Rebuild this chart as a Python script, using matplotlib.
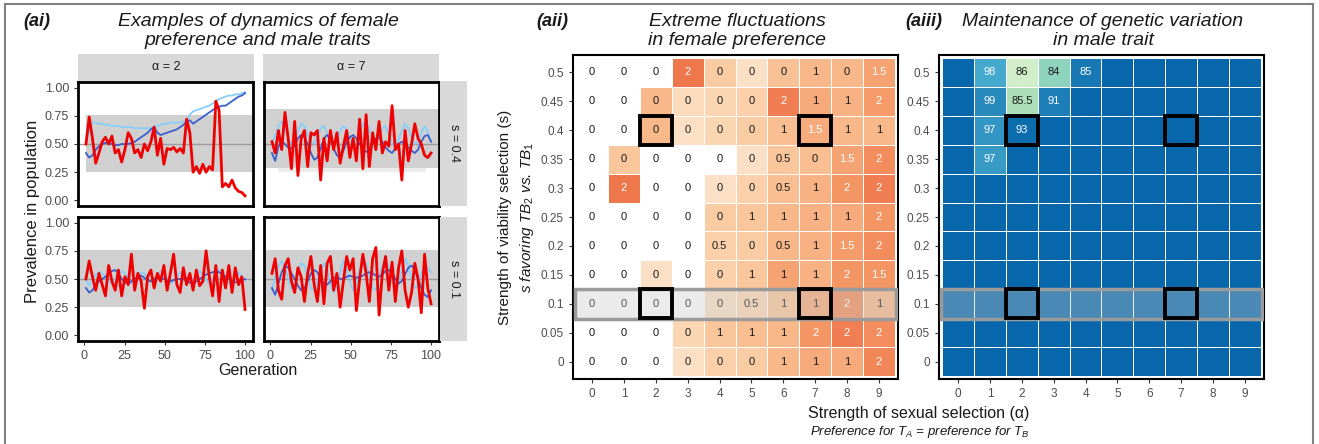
import numpy as np
import matplotlib.pyplot as plt
from matplotlib.colors import LinearSegmentedColormap
from matplotlib.patches import Rectangle
from matplotlib.lines import Line2D

plt.rcParams['font.family'] = ['Liberation Sans', 'DejaVu Sans']
plt.rcParams['mathtext.fontset'] = 'custom'
plt.rcParams['mathtext.it'] = 'Liberation Sans:italic'
plt.rcParams['mathtext.rm'] = 'Liberation Sans'

# ---- time series data (every ~2 generations) ----
gens = np.linspace(1, 100, 50)

red_a2_s04 = [0.50, 0.74, 0.55, 0.33, 0.42, 0.52, 0.56, 0.50, 0.57, 0.42,
              0.45, 0.34, 0.45, 0.60, 0.55, 0.42, 0.45, 0.38, 0.50, 0.44,
              0.52, 0.65, 0.40, 0.55, 0.32, 0.46, 0.45, 0.47, 0.43, 0.46,
              0.42, 0.72, 0.60, 0.25, 0.30, 0.24, 0.32, 0.25, 0.30, 0.27,
              0.88, 0.80, 0.12, 0.15, 0.12, 0.18, 0.11, 0.08, 0.07, 0.04]
light_a2_s04 = [0.50, 0.62, 0.69, 0.69, 0.68, 0.68, 0.67, 0.67, 0.66, 0.66,
                0.66, 0.65, 0.65, 0.65, 0.65, 0.64, 0.64, 0.64, 0.64, 0.64,
                0.64, 0.65, 0.66, 0.67, 0.68, 0.68, 0.69, 0.69, 0.69, 0.69,
                0.70, 0.71, 0.76, 0.79, 0.80, 0.81, 0.82, 0.83, 0.84, 0.86,
                0.88, 0.90, 0.91, 0.92, 0.93, 0.93, 0.94, 0.94, 0.95, 0.96]
blue_a2_s04 = [0.42, 0.38, 0.40, 0.45, 0.48, 0.50, 0.51, 0.51, 0.50, 0.49,
               0.49, 0.50, 0.50, 0.50, 0.51, 0.52, 0.54, 0.56, 0.58, 0.60,
               0.63, 0.65, 0.60, 0.58, 0.59, 0.60, 0.61, 0.62, 0.63, 0.65,
               0.67, 0.70, 0.71, 0.68, 0.70, 0.72, 0.74, 0.76, 0.78, 0.80,
               0.82, 0.83, 0.84, 0.84, 0.86, 0.88, 0.90, 0.92, 0.93, 0.95]

red_a7_s04 = [0.52, 0.42, 0.62, 0.45, 0.78, 0.55, 0.28, 0.70, 0.22, 0.55,
              0.62, 0.30, 0.60, 0.58, 0.62, 0.18, 0.55, 0.35, 0.62, 0.45,
              0.60, 0.33, 0.48, 0.62, 0.38, 0.55, 0.35, 0.72, 0.28, 0.76,
              0.30, 0.60, 0.45, 0.70, 0.42, 0.52, 0.48, 0.84, 0.45, 0.50,
              0.18, 0.62, 0.35, 0.50, 0.68, 0.55, 0.50, 0.40, 0.38, 0.42]
light_a7_s04 = [0.50, 0.58, 0.66, 0.70, 0.64, 0.55, 0.50, 0.55, 0.62, 0.68,
                0.66, 0.58, 0.52, 0.50, 0.56, 0.64, 0.66, 0.60, 0.52, 0.48,
                0.54, 0.62, 0.66, 0.62, 0.55, 0.50, 0.52, 0.60, 0.68, 0.70,
                0.62, 0.55, 0.52, 0.56, 0.64, 0.66, 0.58, 0.50, 0.48, 0.54,
                0.62, 0.68, 0.64, 0.56, 0.50, 0.52, 0.60, 0.66, 0.60, 0.52]
blue_a7_s04 = [0.42, 0.35, 0.48, 0.52, 0.50, 0.47, 0.46, 0.48, 0.55, 0.58,
               0.56, 0.50, 0.42, 0.36, 0.38, 0.46, 0.55, 0.58, 0.54, 0.46,
               0.40, 0.38, 0.44, 0.52, 0.56, 0.58, 0.55, 0.50, 0.46, 0.43,
               0.45, 0.50, 0.55, 0.56, 0.52, 0.47, 0.44, 0.42, 0.46, 0.50,
               0.52, 0.50, 0.47, 0.44, 0.42, 0.45, 0.52, 0.57, 0.58, 0.52]

red_a2_s01 = [0.50, 0.66, 0.52, 0.40, 0.55, 0.45, 0.35, 0.62, 0.48, 0.40,
              0.58, 0.35, 0.52, 0.45, 0.72, 0.40, 0.55, 0.48, 0.24, 0.52,
              0.58, 0.42, 0.55, 0.48, 0.62, 0.40, 0.55, 0.72, 0.45, 0.38,
              0.60, 0.45, 0.55, 0.40, 0.58, 0.44, 0.48, 0.75, 0.52, 0.35,
              0.62, 0.30, 0.58, 0.42, 0.62, 0.38, 0.60, 0.45, 0.52, 0.23]
light_a2_s01 = [0.50, 0.44, 0.48, 0.54, 0.56, 0.55, 0.52, 0.48, 0.46, 0.50,
                0.55, 0.57, 0.55, 0.50, 0.46, 0.47, 0.52, 0.56, 0.55, 0.50,
                0.47, 0.48, 0.53, 0.57, 0.55, 0.50, 0.46, 0.48, 0.52, 0.56,
                0.55, 0.50, 0.47, 0.49, 0.54, 0.57, 0.54, 0.49, 0.46, 0.49,
                0.54, 0.58, 0.56, 0.50, 0.46, 0.48, 0.53, 0.56, 0.52, 0.48]
blue_a2_s01 = [0.42, 0.38, 0.40, 0.45, 0.48, 0.50, 0.52, 0.55, 0.57, 0.58,
               0.55, 0.50, 0.47, 0.46, 0.48, 0.50, 0.52, 0.53, 0.51, 0.49,
               0.48, 0.50, 0.52, 0.51, 0.50, 0.49, 0.48, 0.49, 0.50, 0.50,
               0.50, 0.48, 0.47, 0.46, 0.48, 0.50, 0.52, 0.54, 0.55, 0.56,
               0.57, 0.56, 0.54, 0.52, 0.50, 0.48, 0.47, 0.48, 0.49, 0.50]

red_a7_s01 = [0.55, 0.68, 0.40, 0.32, 0.62, 0.68, 0.48, 0.38, 0.60, 0.52,
              0.30, 0.55, 0.70, 0.45, 0.30, 0.62, 0.28, 0.64, 0.70, 0.40,
              0.55, 0.25, 0.48, 0.70, 0.58, 0.68, 0.22, 0.50, 0.72, 0.55,
              0.30, 0.68, 0.78, 0.18, 0.55, 0.70, 0.40, 0.65, 0.30, 0.60,
              0.75, 0.40, 0.25, 0.38, 0.64, 0.50, 0.20, 0.72, 0.42, 0.28]
light_a7_s01 = [0.40, 0.52, 0.62, 0.66, 0.60, 0.50, 0.42, 0.44, 0.55, 0.64,
                0.62, 0.52, 0.42, 0.40, 0.48, 0.58, 0.64, 0.58, 0.46, 0.38,
                0.44, 0.56, 0.66, 0.60, 0.48, 0.40, 0.46, 0.58, 0.68, 0.64,
                0.52, 0.42, 0.40, 0.50, 0.62, 0.68, 0.60, 0.48, 0.40, 0.46,
                0.58, 0.68, 0.62, 0.50, 0.42, 0.44, 0.55, 0.62, 0.60, 0.56]
blue_a7_s01 = [0.42, 0.36, 0.46, 0.56, 0.62, 0.60, 0.55, 0.50, 0.44, 0.40,
               0.42, 0.48, 0.55, 0.58, 0.56, 0.50, 0.46, 0.45, 0.48, 0.51,
               0.52, 0.50, 0.50, 0.52, 0.53, 0.52, 0.51, 0.52, 0.53, 0.55,
               0.56, 0.55, 0.53, 0.52, 0.54, 0.57, 0.58, 0.55, 0.50, 0.46,
               0.48, 0.54, 0.60, 0.62, 0.58, 0.50, 0.42, 0.36, 0.34, 0.40]

# ---- heatmap data ----
alphas = list(range(10))
s_vals = [0.5, 0.45, 0.4, 0.35, 0.3, 0.25, 0.2, 0.15, 0.1, 0.05, 0]
s_labels = ['0.5', '0.45', '0.4', '0.35', '0.3', '0.25', '0.2', '0.15', '0.1', '0.05', '0']

# (aii) printed values, rows top (s=0.5) to bottom (s=0)
fluct_labels = [
    [0, 0, 0, 2, 0, 0, 0, 1, 0, 1.5],
    [0, 0, 0, 0, 0, 0, 2, 1, 1, 2],
    [0, 0, 0, 0, 0, 0, 1, 1.5, 1, 1],
    [0, 0, 0, 0, 0, 0, 0.5, 0, 1.5, 2],
    [0, 2, 0, 0, 0, 0, 0.5, 1, 2, 2],
    [0, 0, 0, 0, 0, 1, 1, 1, 1, 2],
    [0, 0, 0, 0, 0.5, 0, 0.5, 1, 1.5, 2],
    [0, 0, 0, 0, 0, 1, 1, 1, 2, 1.5],
    [0, 0, 0, 0, 0, 0.5, 1, 1, 2, 1],
    [0, 0, 0, 0, 1, 1, 1, 2, 2, 2],
    [0, 0, 0, 0, 0, 0, 1, 1, 1, 2],
]
nan = np.nan
# (aii) fill intensity (nan = no tile)
fluct_fill = [
    [nan, nan, nan, 0.90, 0.30, 0.10, 0.38, 0.45, 0.45, 0.60],
    [nan, nan, 0.45, 0.15, 0.20, 0.25, 0.85, 0.55, 0.50, 0.65],
    [nan, nan, 0.45, 0.10, 0.20, 0.30, 0.40, 0.55, 0.45, 0.45],
    [nan, 0.35, nan, nan, nan, 0.10, 0.35, 0.40, 0.60, 0.75],
    [nan, 0.90, nan, nan, 0.10, 0.25, 0.40, 0.50, 0.70, 0.85],
    [nan, nan, nan, nan, 0.30, 0.35, 0.45, 0.50, 0.55, 0.70],
    [nan, nan, nan, nan, 0.25, 0.30, 0.45, 0.50, 0.65, 0.75],
    [nan, nan, 0.10, nan, 0.25, 0.35, 0.60, 0.50, 0.70, 0.70],
    [nan, nan, nan, nan, 0.10, 0.20, 0.35, 0.55, 0.75, 0.45],
    [nan, nan, nan, 0.20, 0.35, 0.40, 0.45, 0.70, 0.85, 0.75],
    [nan, nan, nan, 0.10, 0.25, 0.30, 0.45, 0.55, 0.55, 0.80],
]

# (aiii) fill on GnBu scale, printed values ('' = none)
var_fill = [[0.875] * 10 for _ in s_vals]
var_labels = [[''] * 10 for _ in s_vals]
var_cells = [  # (row, col, fill, label)
    (0, 1, 0.66, '98'), (0, 2, 0.22, '86'), (0, 3, 0.45, '84'), (0, 4, 0.82, '85'),
    (1, 1, 0.76, '99'), (1, 2, 0.36, '85.5'), (1, 3, 0.80, '91'),
    (2, 1, 0.72, '97'), (2, 2, 0.86, '93'),
    (3, 1, 0.70, '97'),
]
for r, c, f, lab in var_cells:
    var_fill[r][c] = f
    var_labels[r][c] = lab

highlight = [(2, 0.4), (7, 0.4), (2, 0.1), (7, 0.1)]
band_s = 0.1

# ---- figure ----
W, H = 1319, 444
fig = plt.figure(figsize=(W / 100, H / 100), dpi=100)


def px_rect(x0, y0, x1, y1):
    return [x0 / W, 1 - y1 / H, (x1 - x0) / W, (y1 - y0) / H]


tick_col = '#4d4d4d'


def ts_panel(rect, red, light, blue, left, bottom, band_x0=-4):
    ax = fig.add_axes(rect)
    ax.fill_between([band_x0, 105], 0.25, 0.76, color='#d0d0d0', lw=0, zorder=0)
    ax.axhline(0.5, color='#9c9c9c', lw=1, zorder=1)
    ax.plot(gens, light, color='#87cefa', lw=1.3, zorder=2)
    ax.plot(gens, blue, color='#3a5fcd', lw=1.3, zorder=3)
    ax.plot(gens, red, color='#ee0000', lw=2.0, zorder=4)
    ax.set_xlim(-3.95, 104.95)
    ax.set_ylim(-0.05, 1.05)
    ax.set_xticks([0, 25, 50, 75, 100])
    ax.set_yticks([0, 0.25, 0.5, 0.75, 1.0])
    ax.tick_params(colors='#333333', labelcolor=tick_col, labelsize=9, length=3, width=0.8)
    if left:
        ax.set_yticklabels(['0.00', '0.25', '0.50', '0.75', '1.00'])
    else:
        ax.set_yticklabels([])
        ax.tick_params(axis='y', length=0)
    if not bottom:
        ax.set_xticklabels([])
        ax.tick_params(axis='x', length=0)
    for sp in ax.spines.values():
        sp.set_linewidth(2)
        sp.set_color('black')
    return ax


ax_tl = ts_panel(px_rect(78, 82, 253, 206), red_a2_s04, light_a2_s04, blue_a2_s04, True, False, band_x0=1)
ax_tr = ts_panel(px_rect(264, 82, 439, 206), red_a7_s04, light_a7_s04, blue_a7_s04, False, False)
ax_tr.fill_between([-4, 105], 0.76, 0.81, color='#d0d0d0', lw=0, zorder=0)
ax_tr.fill_between([-4, 105], 0.25, 0.29, color='white', lw=0, zorder=0)
ax_tr.fill_between([5, 97], 0.25, 0.29, color='#ececec', lw=0, zorder=0)
ax_bl = ts_panel(px_rect(78, 217, 253, 341), red_a2_s01, light_a2_s01, blue_a2_s01, True, True)
ax_br = ts_panel(px_rect(264, 217, 439, 341), red_a7_s01, light_a7_s01, blue_a7_s01, False, True)

# strips
strip_col = '#d9d9d9'
for (x0, x1), lab in [((78, 254), 'α = 2'), ((263, 439), 'α = 7')]:
    sax = fig.add_axes(px_rect(x0, 54, x1, 81))
    sax.set_facecolor(strip_col)
    sax.set_xticks([]); sax.set_yticks([])
    for sp in sax.spines.values():
        sp.set_visible(False)
    sax.text(0.5, 0.5, lab, ha='center', va='center', fontsize=9, color='#1a1a1a',
             transform=sax.transAxes)
for (y0, y1), lab in [((81, 206), 's = 0.4'), ((217, 341), 's = 0.1')]:
    sax = fig.add_axes(px_rect(440, y0, 467, y1))
    sax.set_facecolor(strip_col)
    sax.set_xticks([]); sax.set_yticks([])
    for sp in sax.spines.values():
        sp.set_visible(False)
    sax.text(0.5, 0.5, lab, ha='center', va='center', fontsize=9, color='#1a1a1a',
             rotation=-90, transform=sax.transAxes)

fig.text(33 / W, 1 - 211 / H, 'Prevalence in population', rotation=90, ha='center',
         va='center', fontsize=12, color='#1a1a1a')
fig.text(258 / W, 1 - 370 / H, 'Generation', ha='center', va='center', fontsize=11.5,
         color='#1a1a1a')

# ---- heatmaps ----
oranges = LinearSegmentedColormap.from_list('or', ['#fdead5', '#fac89d', '#f59a68', '#ec6840'])
gnbu = plt.get_cmap('GnBu')


def heat_panel(rect, fill, labels, cmap, text_dark):
    ax = fig.add_axes(rect)
    fill = np.array(fill, dtype=float)
    xs = np.arange(-0.5, 10.5, 1)
    ys = np.array([s_vals[0] + 0.025] + [v - 0.025 for v in s_vals])
    ax.pcolormesh(xs, ys, np.ma.masked_invalid(fill), cmap=cmap, vmin=0, vmax=1,
                  edgecolors='white', linewidth=0.5, zorder=1)
    for r, s in enumerate(s_vals):
        for c, a in enumerate(alphas):
            lab = labels[r][c]
            if lab == '':
                continue
            dark = text_dark(r, c)
            txt = lab if isinstance(lab, str) else ('%g' % lab)
            ax.text(a, s, txt, ha='center', va='center', fontsize=8,
                    color='#1a1a1a' if dark else 'white', zorder=3)
    # semi-transparent band over s = 0.1
    ax.add_patch(Rectangle((-0.55, band_s - 0.026), 10.1, 0.052, facecolor='#c8c8c8',
                           alpha=0.35, edgecolor='none', zorder=4))
    ax.add_patch(Rectangle((-0.55, band_s - 0.026), 10.1, 0.052, facecolor='none',
                           edgecolor='#9a9a9a', lw=2.5, zorder=5))
    for a, s in highlight:
        ax.add_patch(Rectangle((a - 0.5, s - 0.025), 1, 0.05, facecolor='none',
                               edgecolor='black', lw=2.8, zorder=6))
    ax.set_xlim(-0.6, 9.6)
    ax.set_ylim(-0.03, 0.53)
    ax.set_xticks(alphas)
    ax.set_yticks(s_vals)
    ax.set_yticklabels(s_labels)
    ax.tick_params(colors='#333333', labelcolor=tick_col, labelsize=8.5, length=3, width=0.8)
    for sp in ax.spines.values():
        sp.set_linewidth(1.5)
        sp.set_color('black')
    return ax


ax_f = heat_panel(px_rect(573, 55, 898, 379), fluct_fill, fluct_labels, oranges,
                  lambda r, c: fluct_labels[r][c] < 1.5)
ax_v = heat_panel(px_rect(939, 55, 1264, 379), var_fill, var_labels, gnbu,
                  lambda r, c: var_fill[r][c] < 0.5)

fig.text(505 / W, 1 - 217 / H, 'Strength of viability selection (s)', rotation=90,
         ha='center', va='center', fontsize=11, color='#1a1a1a')
fig.text(527 / W, 1 - 217 / H, r'$s$ favoring TB$_2$ vs. TB$_1$', rotation=90,
         ha='center', va='center', fontsize=11, color='#1a1a1a', style='italic')
fig.text(919 / W, 1 - 413 / H, 'Strength of sexual selection (α)', ha='center',
         va='center', fontsize=11.5, color='#1a1a1a')
fig.text(920 / W, 1 - 432 / H, r'Preference for $T_A$ = preference for $T_B$',
         ha='center', va='center', fontsize=9.5, color='#1a1a1a', style='italic')

# ---- titles ----
for x, lab in [(37, '(ai)'), (552, '(aii)'), (924, '(aiii)')]:
    fig.text(x / W, 1 - 21 / H, lab, ha='center', va='center', fontsize=13,
             fontweight='bold', style='italic', color='#1a1a1a')
for x, lab in [(258, 'Examples of dynamics of female\npreference and male traits'),
               (737, 'Extreme fluctuations\nin female preference'),
               (1103, 'Maintenance of genetic variation\nin male trait')]:
    fig.text(x / W, 1 - 31 / H, lab, ha='center', va='center', fontsize=14,
             style='italic', color='#1a1a1a', linespacing=1.1)

# outer frame
frame_kw = dict(color='#808080', lw=1.5, transform=fig.transFigure)
fig.add_artist(Line2D([5 / W, 1313 / W], [1 - 4 / H, 1 - 4 / H], **frame_kw))
fig.add_artist(Line2D([5 / W, 5 / W], [0, 1 - 4 / H], **frame_kw))
fig.add_artist(Line2D([1313 / W, 1313 / W], [0, 1 - 4 / H], **frame_kw))

fig.savefig('out.png', dpi=100)
